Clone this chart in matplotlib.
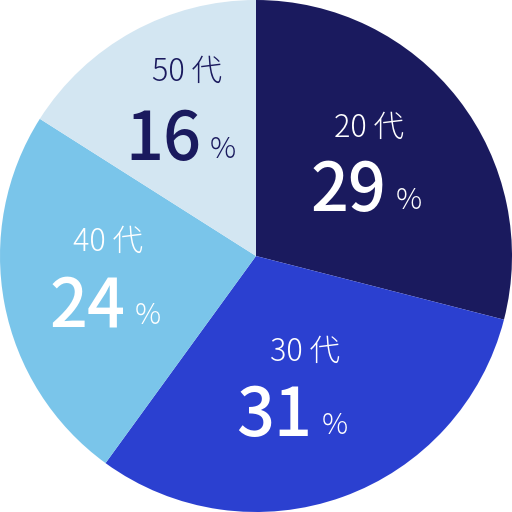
import matplotlib
matplotlib.use("Agg")
import matplotlib.pyplot as plt

plt.rcParams['font.family'] = ['Noto Sans CJK JP', 'DejaVu Sans']

labels = ['20 代', '30 代', '40 代', '50 代']
values = [29, 31, 24, 16]
colors = ['#1a1a5e', '#2b40d0', '#7ac5ea', '#d3e6f2']
text_colors = ['white', 'white', 'white', '#1a1a5e']

# label anchor (x of label center, y of label, y of number, x where number ends)
label_pos = [(0.44, 0.50, 0.25, 0.51), (0.19, -0.375, -0.63, 0.22),
             (-0.58, 0.055, -0.20, -0.51), (-0.27, 0.72, 0.45, -0.215)]

fig = plt.figure(figsize=(5.12, 5.12), dpi=100)
ax = fig.add_axes([0, 0, 1, 1])
ax.pie(values, colors=colors, startangle=90, counterclock=False, radius=1.0,
       wedgeprops=dict(linewidth=0))
ax.set_xlim(-1, 1)
ax.set_ylim(-1, 1)
ax.set_aspect('equal')
ax.axis('off')

for lab, val, tc, (lx, ly, ny, nx) in zip(labels, values, text_colors, label_pos):
    ax.text(lx, ly, lab, color=tc, fontsize=22, fontweight='light',
            ha='center', va='center')
    ax.text(nx, ny, str(val), color=tc, fontsize=48, fontweight='medium',
            ha='right', va='center')
    ax.text(nx + 0.035, ny - 0.035, '%', color=tc, fontsize=21,
            fontweight='light', ha='left', va='center')

plt.savefig('out.png', dpi=100)
plt.close()
